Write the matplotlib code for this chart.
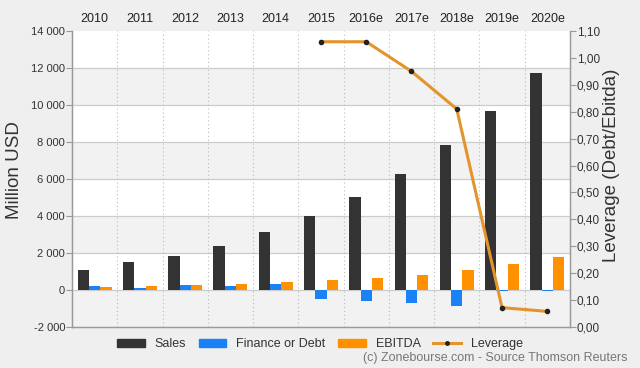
import matplotlib
matplotlib.use("Agg")
import matplotlib.pyplot as plt
import numpy as np
from matplotlib.lines import Line2D
from matplotlib.patches import Patch

plt.rcParams['font.family'] = ['Liberation Sans', 'DejaVu Sans']

years = ['2010', '2011', '2012', '2013', '2014', '2015', '2016e', '2017e', '2018e', '2019e', '2020e']
sales = [1080, 1500, 1850, 2360, 3120, 3980, 5010, 6270, 7820, 9660, 11710]
finance = [216, 110, 290, 216, 320, -500, -610, -720, -850, -50, -80]
ebitda = [140, 216, 270, 320, 430, 520, 630, 810, 1080, 1390, 1780]
lev_years = ['2015', '2016e', '2017e', '2018e', '2019e', '2020e']
leverage = [1.06, 1.06, 0.95, 0.81, 0.072, 0.058]

left_ticks = [-2000, 0, 2000, 4000, 6000, 8000, 10000, 12000, 14000]
right_ticks = [0.0, 0.1, 0.2, 0.3, 0.4, 0.5, 0.6, 0.7, 0.8, 0.9, 1.0, 1.1]

c_sales = '#333333'
c_fin = '#1a82f5'
c_ebit = '#ff9100'
c_lev = '#e4942c'

fig = plt.figure(figsize=(6.4, 3.68), dpi=100, facecolor='#efefef')
ax = fig.add_axes([0.1125, 0.1114, 0.778, 0.8044])
ax.set_facecolor('white')

x = np.arange(len(years))
w = 0.25
ax.set_xlim(-0.5, len(years) - 0.5)
ax.set_ylim(-2000, 14000)

# alternating bands
for i in range(len(left_ticks) - 1):
    if i % 2 == 0:
        ax.axhspan(left_ticks[i], left_ticks[i + 1], color='#f2f2f2', zorder=0, lw=0)
for t in left_ticks[1:-1]:
    ax.axhline(t, color='#cccccc', lw=0.9, zorder=1)
for b in np.arange(0.5, len(years) - 0.5, 1.0):
    ax.axvline(b, color='#bbbbbb', lw=0.8, ls=(0, (1, 2.5)), zorder=1)

ax.bar(x - w, sales, width=w, color=c_sales, zorder=3, label='Sales')
ax.bar(x, finance, width=w, color=c_fin, zorder=3, label='Finance or Debt')
ax.bar(x + w, ebitda, width=w, color=c_ebit, zorder=3, label='EBITDA')

ax.set_yticks(left_ticks)
ax.set_yticklabels([f"{t:,}".replace(',', '\u00a0') for t in left_ticks], fontsize=8, color='#333333')
ax.set_xticks(x)
ax.set_xticklabels(years, fontsize=9, color='#222222')
ax.xaxis.tick_top()
ax.tick_params(axis='x', length=0, pad=4)
ax.tick_params(axis='y', length=4, color='#999999', width=0.8, pad=1)
for s in ['left', 'bottom', 'right']:
    ax.spines[s].set_color('#999999')
    ax.spines[s].set_linewidth(1.0)
ax.spines['top'].set_visible(False)
ax.set_ylabel('Million USD', fontsize=13.5, color='#333333')
ax.yaxis.set_label_coords(-0.099, 0.53)

ax2 = ax.twinx()
ax2.set_ylim(0, 1.1)
lx = [years.index(y) for y in lev_years]
ax2.plot(lx, leverage, color=c_lev, lw=2.2, marker='o', markersize=3,
         markerfacecolor='#222222', markeredgecolor='#222222', zorder=5)
ax2.set_yticks(right_ticks)
ax2.set_yticklabels([f"{t:.2f}".replace('.', ',') for t in right_ticks], fontsize=8.5, color='#333333')
ax2.tick_params(axis='y', length=4, color='#999999', width=0.8, pad=1)
for s in ['left', 'bottom', 'right']:
    ax2.spines[s].set_color('#999999')
ax2.spines['top'].set_visible(False)
ax2.set_ylabel('Leverage (Debt/Ebitda)', fontsize=13.5, color='#333333', rotation=90)
ax2.yaxis.set_label_coords(1.066, 0.545)

handles = [Patch(color=c_sales), Patch(color=c_fin), Patch(color=c_ebit),
           Line2D([0], [0], color=c_lev, lw=2.2, marker='o', markersize=2.5,
                  markerfacecolor='#222222', markeredgecolor='#222222')]
fig.legend(handles, ['Sales', 'Finance or Debt', 'EBITDA', 'Leverage'],
           loc='center', bbox_to_anchor=(0.5, 0.064), ncol=4, frameon=False,
           fontsize=9, handlelength=2.2, handleheight=0.7, columnspacing=1.0,
           handletextpad=0.8, labelcolor='#333333')
fig.text(0.98, 0.028, '(c) Zonebourse.com - Source Thomson Reuters',
         ha='right', va='center', fontsize=9, color='#777777')

fig.savefig('out.png', dpi=100, facecolor=fig.get_facecolor())
